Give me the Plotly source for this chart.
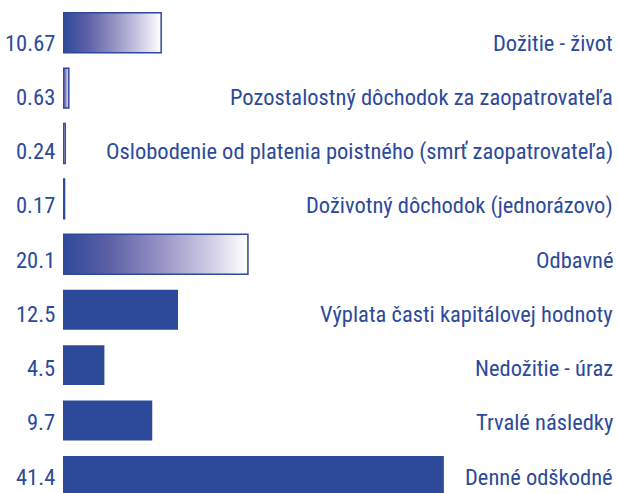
import plotly.graph_objects as go

categories = [
    "Dožitie - život",
    "Pozostalostný dôchodok za zaopatrovateľa",
    "Oslobodenie od platenia poistného (smrť zaopatrovateľa)",
    "Doživotný dôchodok (jednorázovo)",
    "Odbavné",
    "Výplata časti kapitálovej hodnoty",
    "Nedožitie - úraz",
    "Trvalé následky",
    "Denné odškodné",
]
values = [10.67, 0.63, 0.24, 0.17, 20.1, 12.5, 4.5, 9.7, 41.4]
value_labels = ["10.67", "0.63", "0.24", "0.17", "20.1", "12.5", "4.5", "9.7", "41.4"]
gradient_flags = [True, True, True, True, True, False, False, False, False]

BLUE = "#2D4A9A"
FONT = "Roboto Condensed, DejaVu Sans Condensed, sans-serif"
FSIZE = 22.5
BAR_H = 0.72
W, H = 618, 493
ML = 63
PX_PER_UNIT = 9.2
PX_PER_CAT = 55.4
FIRST_CENTER = 32.7

fig = go.Figure()

ypos = list(range(len(categories)))

# solid bars
fig.add_trace(go.Bar(
    x=[v for v, g in zip(values, gradient_flags) if not g],
    y=[y for y, g in zip(ypos, gradient_flags) if not g],
    orientation="h", width=BAR_H,
    marker=dict(color=BLUE, line=dict(width=0)),
    hoverinfo="skip", showlegend=False,
))

# gradient bars (filled polygons following the data values)
for v, y, g in zip(values, ypos, gradient_flags):
    if not g:
        continue
    h = BAR_H / 2
    fig.add_trace(go.Scatter(
        x=[0, v, v, 0, 0],
        y=[y - h, y - h, y + h, y + h, y - h],
        mode="lines", fill="toself",
        fillgradient=dict(type="horizontal",
                          colorscale=[[0, "#2D4A9A"], [0.25, "#5C60A6"],
                                      [0.5, "#908DC1"], [0.75, "#C5C2DF"],
                                      [1, "#FFFFFF"]]),
        line=dict(color=BLUE, width=1.5),
        hoverinfo="skip", showlegend=False,
    ))

annotations = []
for lab, cat, y in zip(value_labels, categories, ypos):
    ys = -(9.8 - 1.15 * y)
    annotations.append(dict(
        x=0, y=y, xref="x", yref="y", text=lab, showarrow=False,
        xanchor="right", yanchor="middle", xshift=-6, yshift=ys,
        font=dict(family=FONT, size=FSIZE, color=BLUE),
    ))
    annotations.append(dict(
        x=1, y=y, xref="paper", yref="y", text=cat, showarrow=False,
        xanchor="right", yanchor="middle", xshift=-3, yshift=ys,
        font=dict(family=FONT, size=FSIZE, color=BLUE),
    ))

plot_w = W - ML
y_top = -FIRST_CENTER / PX_PER_CAT
y_bot = (H - FIRST_CENTER) / PX_PER_CAT

fig.update_layout(
    width=W, height=H,
    margin=dict(l=ML, r=0, t=0, b=0),
    paper_bgcolor="white", plot_bgcolor="white",
    xaxis=dict(range=[0, plot_w / PX_PER_UNIT], visible=False, fixedrange=True),
    yaxis=dict(range=[y_bot, y_top], visible=False, fixedrange=True),
    annotations=annotations,
    showlegend=False,
)

fig.write_html("out.html", config={"displayModeBar": False},
               post_script="document.body.style.margin='0';")
